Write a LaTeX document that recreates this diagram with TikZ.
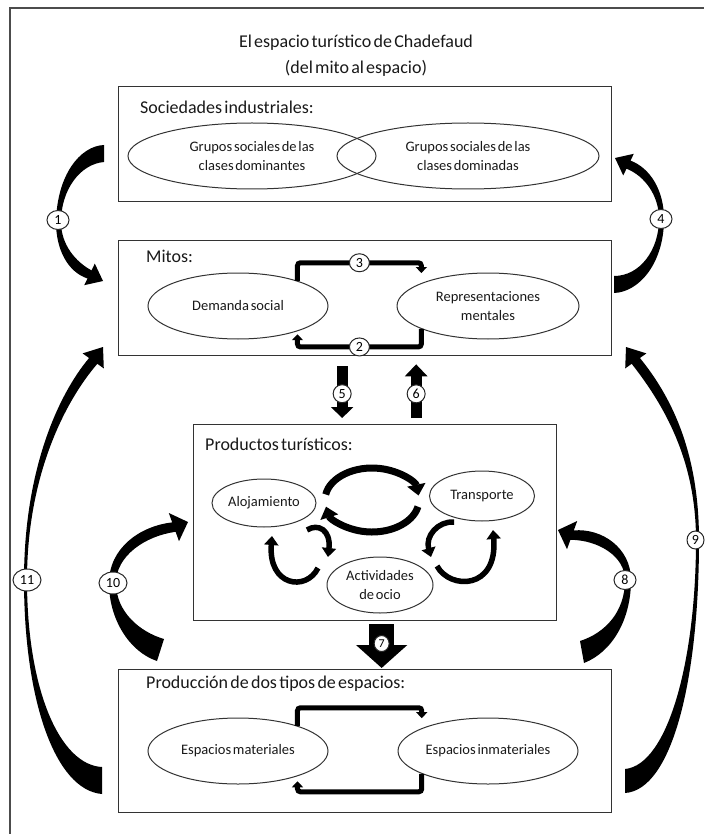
\documentclass[tikz,border=0pt]{standalone}
\usepackage{fontspec}
\setmainfont{Carlito}[WordSpace=0.55]
\usetikzlibrary{arrows.meta,shapes.geometric}

\begin{document}
\begin{tikzpicture}[x=1pt,y=-1pt,
  frame/.style={draw=black!70, line width=1.4},
  panel/.style={draw=black!80, line width=1.3, rectangle, anchor=north west, inner sep=0pt},
  oval/.style={draw=black!80, line width=1.0, ellipse, inner sep=0pt, align=center,
               text=black!90, font=\fontsize{14.5}{19.5}\selectfont},
  heading/.style={anchor=west, inner sep=0pt, text=black!90, font=\fontsize{18}{22}\selectfont},
  num/.style={draw=black!85, line width=1, fill=white, ellipse, inner sep=0pt,
              minimum width=22, minimum height=19, font=\fontsize{14}{14}\selectfont},
  wide/.style={minimum width=28, minimum height=22},
  elbow/.style={draw=black, line width=5, rounded corners=3, -{Triangle[length=6pt,width=11pt]}},
  crescent/.style={fill=black, draw=none},
  curl/.style={draw=black, line width=7, -{Triangle[length=11pt,width=18pt]}},
  hook/.style={draw=black, line width=5.5, -{Triangle[length=9pt,width=14pt]}},
]
\useasboundingbox (0,0) rectangle (704,834);

% outer frame
\draw[frame] (10,834) -- (10,8) -- (704,8);

% title
\node[align=center, text=black!90, font=\fontsize{18}{26}\selectfont] (title) at (356,56)
  {El espacio turístico de Chadefaud\\(del mito al espacio)};

% ---- Sociedades industriales
\node[panel, minimum width=493, minimum height=115] (soc) at (118,86) {};
\node[heading] (socT) at (140,107) {Sociedades industriales:};
\node[oval, minimum width=248, minimum height=66] (dom) at (252,156)
  {Grupos sociales de las\\clases dominantes};
\node[oval, minimum width=262, minimum height=66] (domd) at (468,156)
  {Grupos sociales de las\\clases dominadas};

% ---- Mitos
\node[panel, minimum width=493, minimum height=115] (mit) at (118,240) {};
\node[heading] (mitT) at (146,256) {Mitos:};
\node[oval, minimum width=180, minimum height=66] (dem) at (238,306) {Demanda social};
\node[oval, minimum width=182, minimum height=66] (rep) at (488,306) {Representaciones\\mentales};

\draw[elbow, shorten >=10pt] (dem.23) -- ([yshift=18pt]dem.23)
  -| node[num, pos=0.25, minimum width=20, minimum height=18] (n3) {3} (rep.161);
\draw[elbow, shorten >=3pt] (rep.199) -- ([yshift=-18pt]rep.199)
  -| node[num, pos=0.25, minimum width=20, minimum height=18] (n2) {2} (dem.337);

% ---- Productos turísticos
\node[panel, minimum width=363, minimum height=196] (prod) at (193,424) {};
\node[heading] (prodT) at (205,444) {Productos turísticos:};
\node[oval, minimum width=104, minimum height=48] (alo) at (264,503) {Alojamiento};
\node[oval, minimum width=105, minimum height=50] (tra) at (482,496) {Transporte};
\node[oval, minimum width=106, minimum height=56] (act) at (380,585) {Actividades\\de ocio};

% circular flow between the services
\draw[curl] (372,500) ++(190:47 and 32) arc[start angle=190, end angle=352, x radius=47, y radius=32];
\draw[curl] (372,500) ++(12:47 and 32) arc[start angle=12, end angle=168, x radius=47, y radius=32];
\draw[hook] (307,530) .. controls (318,523) and (331,530) .. (328,557);
\draw[hook] (318,568) .. controls (306,592) and (268,586) .. (272,536);
\draw[hook] (454,522) .. controls (438,521) and (425,536) .. (431,557);
\draw[hook] (437,566) .. controls (450,590) and (498,590) .. (493,530);

% ---- Producción de dos tipos de espacios
\node[panel, minimum width=493, minimum height=143] (esp) at (118,669) {};
\node[heading] (espT) at (146,684) {Producción de dos tipos de espacios:};
\node[oval, minimum width=180, minimum height=66] (mat) at (238,751) {Espacios materiales};
\node[oval, minimum width=180, minimum height=66] (inm) at (488,751) {Espacios inmateriales};

\draw[elbow, shorten >=10pt] (mat.23) -- ([yshift=18pt]mat.23) -| (inm.161);
\draw[elbow, shorten >=5pt] (inm.199) -- ([yshift=-18pt]inm.199) -| (mat.337);

% ---- straight block arrows between panels
\draw[line width=11, -{Triangle[length=11pt,width=22pt]}]
  ([xshift=-23pt,yshift=-10pt]mit.south) -- node[num, pos=0.53, minimum width=18, minimum height=18] (n5) {5}
  ([xshift=-33pt,yshift=6pt]prod.north);
\draw[line width=11, -{Triangle[length=12pt,width=22pt]}]
  ([xshift=41pt,yshift=6pt]prod.north) -- node[num, pos=0.45, minimum width=18, minimum height=18] (n6) {6}
  ([xshift=51pt,yshift=-8pt]mit.south);
\draw[line width=25, -{Triangle[length=23pt,width=50pt]}]
  ([xshift=6.5pt,yshift=-3pt]prod.south) -- node[num, pos=0.44, minimum width=15, minimum height=16, font=\fontsize{12}{12}\selectfont] (n7) {7}
  ([xshift=16.5pt,yshift=1pt]esp.north);

% ---- curved arrows round the panels
% 1: sociedades -> mitos
\path[crescent] (104,145) .. controls (80,146) and (57,175) .. (56,222)
  .. controls (56,250) and (68,272) .. (87.5,278.5)
  -- (84.2,285.2) -- (103,281) -- (94.8,263.6) -- (91.5,270.4)
  .. controls (76,262) and (61,245) .. (61,222)
  .. controls (61,190) and (80,164) .. (104,162) -- cycle;
\node[num] (n1) at (58,220) {1};

% 4: mitos -> sociedades
\path[crescent] (614,293) .. controls (640,292) and (664,262) .. (664,219)
  .. controls (664,190) and (650,168) .. (630.5,160.6)
  -- (633.8,153.8) -- (615,158) -- (623.2,175.4) -- (626.5,168.7)
  .. controls (645,176) and (659,196) .. (659,219)
  .. controls (659,250) and (640,276) .. (614,276) -- cycle;
\node[num] (n4) at (661,219) {4};

% 11: espacios -> mitos (left)
\path[crescent] (102,794) .. controls (55,790) and (24,700) .. (24,580)
  .. controls (24,470) and (58,395) .. (89.1,358)
  -- (82.6,353.4) -- (103,347) -- (103.8,368.4) -- (97.3,363.8)
  .. controls (62,405) and (27,480) .. (27,580)
  .. controls (27,690) and (60,765) .. (102,767) -- cycle;
\node[num, wide] (n11) at (27,580) {11};

% 9: espacios -> mitos (right)
\path[crescent] (625,793) .. controls (672,790) and (699,680) .. (699,540)
  .. controls (699,450) and (670,395) .. (639.9,358)
  -- (646.4,353.4) -- (626,347) -- (625.2,368.4) -- (631.7,363.8)
  .. controls (664,405) and (696,460) .. (696,540)
  .. controls (696,660) and (668,765) .. (625,769) -- cycle;
\node[num, minimum width=17, minimum height=18] (n9) at (695.5,540) {9};

% 10: espacios -> productos (left)
\path[crescent] (157,661) .. controls (130,652) and (109,620) .. (109,583)
  .. controls (109,548) and (140,526) .. (172.2,522.4)
  -- (168.8,513) -- (188,522) -- (179,541.2) -- (175.6,531.8)
  .. controls (145,536) and (116,556) .. (116,583)
  .. controls (116,612) and (140,632) .. (164,639) -- cycle;
\node[num, wide] (n10) at (113,583) {10};

% 8: espacios -> productos (right)
\path[crescent] (584,663) .. controls (612,652) and (631,620) .. (631,580)
  .. controls (631,548) and (602,528) .. (573.8,530.4)
  -- (577.2,521) -- (558,530) -- (567,549.2) -- (570.4,539.8)
  .. controls (598,540) and (625,556) .. (625,580)
  .. controls (625,612) and (605,633) .. (580,641) -- cycle;
\node[num] (n8) at (625,580) {8};

\end{tikzpicture}
\end{document}
